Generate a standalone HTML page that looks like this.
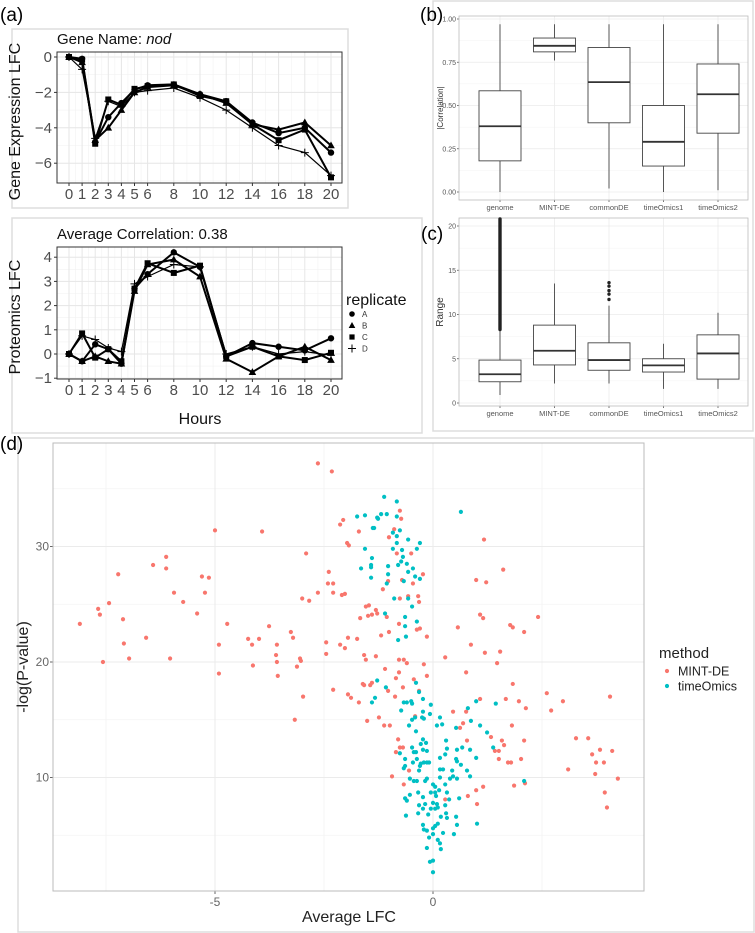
<!DOCTYPE html>
<html><head><meta charset="utf-8">
<style>
html,body{margin:0;padding:0;background:#fff;}
svg{display:block;font-family:"Liberation Sans",sans-serif;}
</style></head>
<body>
<svg id="fig" width="755" height="933" viewBox="0 0 755 933" xmlns="http://www.w3.org/2000/svg">
<g id="frames">
  <rect x="12" y="29" width="336" height="179" fill="none" stroke="#ddd" stroke-width="1.5"/>
  <rect x="12" y="218" width="410" height="215" fill="none" stroke="#ddd" stroke-width="1.5"/>
  <rect x="433" y="1" width="320" height="430" fill="none" stroke="#ddd" stroke-width="1.5"/>
  <rect x="18" y="438" width="736" height="494" fill="none" stroke="#ddd" stroke-width="1.5"/>
</g>
<text x="0" y="21" font-size="19">(a)</text>
<text x="420" y="21" font-size="19">(b)</text>
<text x="421" y="240" font-size="19">(c)</text>
<text x="0" y="450" font-size="19">(d)</text>
<g id="ga"></g><g id="gb"></g><g id="gc"></g><g id="gd"></g>
</svg>
<script>
// ---------- Panel (a) data ----------
const hours = [0,1,2,3,4,5,6,8,10,12,14,16,18,20];
const replicates = ["A","B","C","D"];
const geneA = [0,-0.1,-4.8,-3.4,-2.6,-1.85,-1.6,-1.55,-2.1,-2.5,-3.7,-4.3,-4.0,-5.4];
const geneB = [0,-0.3,-4.7,-4.0,-3.0,-2.0,-1.7,-1.6,-2.1,-2.6,-3.8,-4.1,-3.7,-5.0];
const geneC = [0,-0.15,-4.9,-2.4,-2.7,-1.8,-1.65,-1.55,-2.2,-2.5,-3.8,-4.7,-4.1,-6.8];
const geneD = [0,-0.7,-4.6,-2.5,-2.8,-2.0,-1.9,-1.75,-2.3,-3.0,-4.0,-5.0,-5.4,-6.7];
const protA = [0,-0.3,0.4,0.2,-0.4,2.7,3.3,4.2,3.6,-0.1,0.45,0.3,0.15,0.65];
const protB = [0,-0.3,-0.1,-0.3,-0.4,2.6,3.7,3.9,3.2,-0.2,-0.75,-0.1,0.3,-0.25];
const protC = [0,0.85,-0.15,0.2,-0.3,2.7,3.75,3.35,3.65,-0.1,0.3,-0.1,-0.25,0.05];
const protD = [0,0.75,0.6,0.25,0.1,2.9,3.2,3.7,3.6,0.0,0.3,0.0,0.1,-0.05];
const geneTicks = [0,-2,-4,-6];
const protTicks = [4,3,2,1,0,-1];

// ---------- Panel (b),(c) data ----------
const methods = ["genome","MINT-DE","commonDE","timeOmics1","timeOmics2"];
const corLow  = [0.0,0.76,0.02,0.0,0.01];
const corQ1   = [0.18,0.81,0.40,0.15,0.34];
const corMed  = [0.38,0.845,0.635,0.29,0.565];
const corQ3   = [0.585,0.89,0.835,0.50,0.74];
const corHigh = [0.97,0.97,0.97,0.97,0.97];
const corTicks = ["0.00","0.25","0.50","0.75","1.00"];
const rngLow  = [0.9,2.2,2.2,1.6,1.6];
const rngQ1   = [2.4,4.3,3.7,3.5,2.7];
const rngMed  = [3.25,5.9,4.85,4.25,5.6];
const rngQ3   = [4.85,8.8,6.8,5.0,7.7];
const rngHigh = [8.3,13.5,11.0,6.7,10.2];
const genomeOutlierMin = 8.3, genomeOutlierMax = 20.8;
const commonOutliers = [11.7,12.3,12.7,13.2,13.6];
const rngTicks = [0,5,10,15,20];

// ---------- Panel (d) data ----------
const mintX = [-2.64,-2.32,-5.0,-3.92,-2.91,-6.12,-6.42,-6.12,-7.22,-2.39,-5.30,-5.14,-2.41,-2.29,-2.13,-2.06,-1.70,-1.97,-1.93,-5.94,-5.23,-2.64,-2.29,-2.09,-2.02,-7.43,-5.73,-3.0,-2.84,-7.68,-7.64,-5.41,-7.11,-8.10,-4.72,-3.76,-3.26,-3.21,-6.58,-4.24,-3.99,-1.95,-1.74,-7.09,-4.91,-4.15,-3.58,-2.45,-2.13,-2.02,-7.57,-6.97,-6.03,-3.60,-3.58,-3.05,-3.03,-2.45,-1.58,-1.54,-1.31,-4.91,-4.13,-3.56,-3.12,-1.67,-1.54,-1.47,-1.49,-1.40,-1.31,-0.76,-0.73,-0.89,-1.01,-0.83,-0.50,1.17,1.61,0.99,1.22,-1.03,-0.71,-0.46,-0.23,-1.15,-0.76,-0.57,-0.34,-0.32,-1.06,-1.28,1.08,1.15,2.41,0.57,1.77,1.83,2.09,-0.78,-0.37,-0.30,-1.01,-1.19,-0.14,0.87,1.19,1.54,0.28,1.47,0.76,-0.78,-0.67,-0.60,-0.21,-1.10,-0.78,-0.14,-0.85,-0.44,-1.40,-1.61,1.83,2.61,2.98,4.06,2.71,1.97,2.13,1.67,1.08,0.46,0.76,0.69,0.62,1.81,2.09,1.58,1.63,1.42,1.51,1.33,1.51,1.72,1.79,2.02,0.78,3.28,3.56,3.65,3.83,4.11,3.74,3.92,3.10,3.72,4.24,3.94,3.99,1.86,2.11,1.15,0.99,0.80,1.01,0.28,-0.67,-0.94,-0.80,-0.76,-0.85,-0.69,-0.55,-0.41,-0.32,-0.69,-0.87,-1.03,-0.99,-1.12,-1.24,-1.51,-1.70,-1.88,-1.95,-2.29,-2.98,-3.17,-1.58,-1.44];
const mintY = [37.2,36.5,31.4,31.3,29.4,29.1,28.4,28.1,27.6,27.8,27.4,27.3,26.8,26.8,31.9,32.3,31.3,30.3,30.1,26.0,26.0,26.0,26.0,25.8,25.9,25.1,25.2,25.5,25.3,24.6,24.1,24.2,23.7,23.3,23.3,23.1,22.6,22.1,22.1,22.0,22.0,22.1,22.0,21.6,21.5,21.5,21.5,21.7,21.5,21.2,20.0,20.3,20.3,20.6,20.0,20.3,20.1,20.7,20.6,20.2,20.5,19.0,19.7,18.8,19.6,23.8,24.8,24.9,24.0,24.1,24.5,33.1,32.4,31.5,30.8,29.4,29.4,30.6,28.0,27.1,26.9,27.0,27.1,26.8,27.6,26.3,25.5,25.7,25.7,25.2,23.9,24.2,24.1,23.8,23.9,23.0,23.2,23.0,22.6,23.3,22.8,22.9,22.6,22.3,22.2,21.5,20.8,20.9,20.4,19.9,19.1,20.2,20.2,19.9,19.8,19.4,19.1,18.8,18.6,18.5,18.2,18.1,18.1,17.3,16.6,17.0,15.8,16.6,16.0,16.8,16.8,15.7,15.7,14.7,14.3,14.5,13.2,13.2,12.8,12.3,12.3,13.5,11.6,11.3,11.3,11.6,13.2,13.4,13.4,12.0,12.4,12.3,11.3,11.3,10.7,10.3,9.9,8.7,7.4,9.3,9.5,9.2,8.9,8.4,7.7,8.1,9.4,10.1,13.3,12.6,12.2,12.6,10.6,15.3,17.5,17.8,17.0,17.5,14.5,14.5,15.2,14.9,16.5,16.9,17.2,17.6,17.0,15.0,18.0,18.0];
const toX = [-1.74,-1.56,-1.28,-1.38,-1.56,-1.40,-1.42,-1.65,-1.42,-1.12,-0.83,-1.19,-1.06,-0.83,-1.26,-1.35,-0.76,-0.92,-0.83,-0.57,-0.30,-0.83,-0.92,-0.71,-0.37,-0.69,-1.42,-0.73,-0.80,-1.03,-0.60,-0.46,-0.57,-1.03,-0.41,-0.30,-0.67,-1.06,-0.89,-0.57,-0.48,-1.10,-0.64,-0.37,-0.64,-0.80,-0.62,0.64,-1.28,-0.39,-1.40,-1.33,-1.08,-0.23,-0.32,-0.73,-0.67,-0.60,-0.50,-0.48,-0.05,-0.23,-0.07,-0.48,-0.41,-0.55,-0.39,-0.25,-0.21,0.16,0.09,0.21,0.53,0.87,0.80,0.99,1.44,1.08,1.24,1.38,0.99,0.85,0.67,0.55,0.30,0.32,0.28,0.16,0.53,0.55,0.64,0.44,0.78,0.85,0.46,0.55,0.39,0.23,0.16,0.16,0.28,0.14,0.0,0.05,0.05,0.07,-0.05,-0.23,-0.34,-0.53,-0.64,-0.60,-0.32,-0.18,0.0,0.09,0.32,0.60,0.37,0.28,0.11,0.05,-0.05,-0.23,-0.34,-0.11,-0.62,0.18,0.30,0.32,0.53,0.55,0.48,0.23,0.05,0.0,0.11,-0.23,-0.21,-0.14,0.0,-0.09,0.11,0.16,0.18,-0.14,0.0,-0.07,0.0,1.01,2.09,-0.48,-0.44,-0.39,-0.37,-0.30,-0.32,-0.28,-0.21,-0.14,-0.09,-0.23,-0.14,-0.28,-0.16,-0.23,-0.64,-0.67,-0.64,-0.76,-0.46,-0.53,-0.44,-0.18,-0.14,-0.37];
const toY = [32.6,32.7,32.5,31.6,29.8,29.0,28.4,28.1,27.3,34.3,33.9,32.8,32.8,32.6,32.4,31.6,31.4,31.2,30.9,30.6,30.3,30.3,29.8,29.7,29.8,29.1,28.2,28.7,28.4,28.3,28.5,28.1,27.8,27.6,27.4,27.2,27.0,26.8,25.5,25.5,24.8,24.2,23.9,23.5,23.1,21.9,22.2,33.0,18.4,18.2,16.5,16.9,17.8,16.8,17.4,15.8,16.5,16.5,16.6,16.4,16.3,15.7,15.5,15.0,15.2,14.5,14.0,15.2,15.1,15.2,14.5,14.6,14.3,14.9,16.0,16.6,16.4,14.5,13.9,12.6,11.7,12.4,12.6,12.4,13.2,12.5,12.0,11.7,11.6,11.4,11.1,10.6,10.6,10.1,10.1,9.9,9.9,10.7,10.7,10.0,9.4,8.9,9.4,9.2,8.7,8.4,8.7,8.3,8.7,8.5,8.2,8.0,7.6,7.7,7.8,7.7,8.7,8.2,8.1,7.6,7.4,7.3,7.3,7.3,6.9,6.8,6.7,6.6,6.9,6.5,6.6,5.9,5.1,5.2,5.8,5.6,6.0,5.9,5.5,5.4,5.1,4.8,4.6,4.3,3.8,3.9,2.8,2.7,1.8,6.0,9.7,12.6,12.2,12.2,11.6,11.0,10.6,11.2,11.3,11.3,11.3,12.4,12.3,12.9,13.0,13.3,11.6,10.8,11.0,12.1,11.3,9.9,9.7,9.7,9.9,9.7];
const dXTicks = [-5,0];
const dYTicks = [10,20,30];

const NS = "http://www.w3.org/2000/svg";
function mk(parent, tag, attrs, text){
  const e = document.createElementNS(NS, tag);
  for (const k in attrs) e.setAttribute(k, attrs[k]);
  if (text !== undefined) e.textContent = text;
  parent.appendChild(e);
  return e;
}

// ===== Panel (a) =====
const ga = document.getElementById('ga');


const ax = h => 69 + h * 13.1;
function lineFacet(cfg){
  const g = mk(ga, 'g', {});
  
  
  const {x0,x1,y0,y1} = cfg;
  mk(g,'rect',{x:x0,y:y0,width:x1-x0,height:y1-y0,fill:'#fff'});
  for (let v = cfg.vmin; v <= cfg.vmax; v += cfg.minorStep) {
    const y = cfg.ay(v);
    if (y>y0 && y<y1) mk(g,'line',{x1:x0,x2:x1,y1:y,y2:y,stroke:'#f2f2f2','stroke-width':0.6});
  }
  for (let i=0;i<hours.length-1;i++){
    const xm = ax((hours[i]+hours[i+1])/2);
    mk(g,'line',{x1:xm,x2:xm,y1:y0,y2:y1,stroke:'#f2f2f2','stroke-width':0.6});
  }
  cfg.ticks.forEach(t=>{
    const y = cfg.ay(t);
    mk(g,'line',{x1:x0,x2:x1,y1:y,y2:y,stroke:'#e6e6e6','stroke-width':1});
    const lab = mk(g,'text',{x:x0-5,y:y+5,'text-anchor':'end','font-size':15,fill:'#4d4d4d'}, t<0?'\u2212'+(-t):String(t));
    
    
    mk(g,'line',{x1:x0-3,x2:x0,y1:y,y2:y,stroke:'#333','stroke-width':1});
  });
  hours.forEach(h=>{
    const x = ax(h);
    mk(g,'line',{x1:x,x2:x,y1:y0,y2:y1,stroke:'#e6e6e6','stroke-width':1});
    mk(g,'line',{x1:x,x2:x,y1:y1,y2:y1+3,stroke:'#333','stroke-width':1});
    const lab = mk(g,'text',{x:x,y:y1+16,'text-anchor':'middle','font-size':15,fill:'#4d4d4d'}, String(h));
    
    
  });
  const series = cfg.series;
  const shapes = ['circle','triangle','square','plus'];
  series.forEach((vals, si)=>{
    const pts = vals.map((v,i)=>ax(hours[i]).toFixed(1)+','+cfg.ay(v).toFixed(1)).join(' ');
    const pl = mk(g,'polyline',{points:pts,fill:'none',stroke:'#000','stroke-width':si===3?1.2:2});
    
    
    vals.forEach((v,i)=>{
      const x = ax(hours[i]), y = cfg.ay(v);
      let m;
      if (shapes[si]==='circle') m = mk(g,'circle',{cx:x,cy:y,r:3.2,fill:'#000'});
      else if (shapes[si]==='triangle') m = mk(g,'polygon',{points:`${x},${y-4} ${x-3.8},${y+2.8} ${x+3.8},${y+2.8}`,fill:'#000'});
      else if (shapes[si]==='square') m = mk(g,'rect',{x:x-3,y:y-3,width:6,height:6,fill:'#000'});
      else m = mk(g,'path',{d:`M${x-4},${y}H${x+4}M${x},${y-4}V${y+4}`,stroke:'#000','stroke-width':1});
      
      
    });
  });
  mk(g,'rect',{x:x0,y:y0,width:x1-x0,height:y1-y0,fill:'none',stroke:'#333','stroke-width':1});
  const t = mk(g,'text',{x:x0,y:y0-8,'font-size':15,fill:'#111'});
  t.innerHTML = cfg.title;
  
  
  const yt = mk(g,'text',{x:0,y:0,'font-size':16,fill:'#111','text-anchor':'middle',transform:`translate(${x0-37},${(y0+y1)/2+4}) rotate(-90)`}, cfg.ylab);
  
  
}
lineFacet({name:'gene-expression-plot',x0:57,x1:342,y0:52,y1:183,ay:v=>57-v*17.7,vmin:-7,vmax:1,minorStep:1,ticks:geneTicks,
  series:[geneA,geneB,geneC,geneD],title:'Gene Name: <tspan font-style="italic">nod</tspan>',ylab:'Gene Expression LFC'});
lineFacet({name:'proteomics-plot',x0:57,x1:342,y0:247,y1:379,ay:v=>354-v*24.2,vmin:-1,vmax:4.5,minorStep:0.5,ticks:protTicks,
  series:[protA,protB,protC,protD],title:'Average Correlation: 0.38',ylab:'Proteomics LFC'});
const hx = mk(ga,'text',{x:200,y:424,'font-size':16,'text-anchor':'middle',fill:'#111'},'Hours');


const lg = mk(ga,'g',{});


mk(lg,'text',{x:346,y:305,'font-size':16,fill:'#111'},'replicate');
replicates.forEach((r,i)=>{
  const y = 314 + i*11.5, x = 352;
  let m;
  if (i===0) m = mk(lg,'circle',{cx:x,cy:y,r:2.8,fill:'#000'});
  else if (i===1) m = mk(lg,'polygon',{points:`${x},${y-3.5} ${x-3.3},${y+2.5} ${x+3.3},${y+2.5}`,fill:'#000'});
  else if (i===2) m = mk(lg,'rect',{x:x-2.6,y:y-2.6,width:5.2,height:5.2,fill:'#000'});
  else m = mk(lg,'path',{d:`M${x-4},${y}H${x+4}M${x},${y-4}V${y+4}`,stroke:'#000','stroke-width':1});
  const lt = mk(lg,'text',{x:362,y:y+3,'font-size':8,fill:'#333'},r);
  
  
});

// ===== Panels (b),(c) =====
const bx = i => 500 + i * 54.5;
function boxPanel(gid, cfg){
  const g = document.getElementById(gid);
  
  
  const {x0,x1,y0,y1} = cfg;
  cfg.minor.forEach(v=>{const y=cfg.ay(v); mk(g,'line',{x1:x0,x2:x1,y1:y,y2:y,stroke:'#f3f3f3','stroke-width':0.6});});
  cfg.ticks.forEach(t=>{
    const y = cfg.ay(parseFloat(t));
    mk(g,'line',{x1:x0,x2:x1,y1:y,y2:y,stroke:'#ebebeb','stroke-width':0.8});
    mk(g,'line',{x1:x0-2,x2:x0,y1:y,y2:y,stroke:'#555','stroke-width':0.8});
    const lab = mk(g,'text',{x:x0-3,y:y+2.5,'text-anchor':'end','font-size':7,fill:'#555'},String(t));
    
    
  });
  methods.forEach((m,i)=>{
    const x = bx(i);
    mk(g,'line',{x1:x,x2:x,y1:y0,y2:y1,stroke:'#ebebeb','stroke-width':0.8});
    mk(g,'line',{x1:x,x2:x,y1:y1,y2:y1+2,stroke:'#555','stroke-width':0.8});
    const lab = mk(g,'text',{x:x,y:y1+10,'text-anchor':'middle','font-size':7.5,fill:'#555'},m);
    
    
  });
  methods.forEach((m,i)=>{
    const x = bx(i), w = 21;
    const bg = mk(g,'g',{});
    
    
    mk(bg,'line',{x1:x,x2:x,y1:cfg.ay(cfg.low[i]),y2:cfg.ay(cfg.q1[i]),stroke:'#444','stroke-width':0.9});
    mk(bg,'line',{x1:x,x2:x,y1:cfg.ay(cfg.q3[i]),y2:cfg.ay(cfg.high[i]),stroke:'#444','stroke-width':0.9});
    mk(bg,'rect',{x:x-w,y:cfg.ay(cfg.q3[i]),width:2*w,height:cfg.ay(cfg.q1[i])-cfg.ay(cfg.q3[i]),fill:'#fff',stroke:'#444','stroke-width':0.9});
    mk(bg,'line',{x1:x-w,x2:x+w,y1:cfg.ay(cfg.med[i]),y2:cfg.ay(cfg.med[i]),stroke:'#333','stroke-width':1.8});
  });
  mk(g,'rect',{x:x0,y:y0,width:x1-x0,height:y1-y0,fill:'none',stroke:'#bbb','stroke-width':0.8});
  const yt = mk(g,'text',{x:0,y:0,'font-size':cfg.ylabSize,fill:'#333','text-anchor':'middle',transform:`translate(${x0-16},${(y0+y1)/2}) rotate(-90)`},cfg.ylab);
  
  
  return g;
}
boxPanel('gb',{name:'panel-b-correlation-boxplot',x0:459,x1:748,y0:16,y1:200,ay:v=>192-v*173,ticks:corTicks,minor:[0.125,0.375,0.625,0.875],
  low:corLow,q1:corQ1,med:corMed,q3:corQ3,high:corHigh,ylab:'|Correlation|',ylabSize:8});
const gc = boxPanel('gc',{name:'panel-c-range-boxplot',x0:459,x1:748,y0:218,y1:406,ay:v=>403-v*8.85,ticks:rngTicks,minor:[2.5,7.5,12.5,17.5],
  low:rngLow,q1:rngQ1,med:rngMed,q3:rngQ3,high:rngHigh,ylab:'Range',ylabSize:10});
{
  const ay = v=>403-v*8.85;
  const o = mk(gc,'line',{x1:bx(0),x2:bx(0),y1:ay(genomeOutlierMin),y2:ay(genomeOutlierMax),stroke:'#222','stroke-width':3.4,'stroke-linecap':'round'});
  
  
  commonOutliers.forEach(v=>{
    const c = mk(gc,'circle',{cx:bx(2),cy:ay(v),r:1.7,fill:'#222'});
    
    
  });
}

// ===== Panel (d) =====
const gd = document.getElementById('gd');


const dx = v => 433 + v * 43.6;
const dy = v => 893 - v * 11.55;
const DX0=53, DX1=644, DY0=443, DY1=891;
[-7.5,-2.5,2.5].forEach(v=>mk(gd,'line',{x1:dx(v),x2:dx(v),y1:DY0,y2:DY1,stroke:'#f3f3f3','stroke-width':0.8}));
[5,15,25,35].forEach(v=>mk(gd,'line',{x1:DX0,x2:DX1,y1:dy(v),y2:dy(v),stroke:'#f3f3f3','stroke-width':0.8}));
dXTicks.forEach(v=>{
  const x = dx(v);
  mk(gd,'line',{x1:x,x2:x,y1:DY0,y2:DY1,stroke:'#ebebeb','stroke-width':1});
  mk(gd,'line',{x1:x,x2:x,y1:DY1,y2:DY1+3,stroke:'#666','stroke-width':1});
  const t = mk(gd,'text',{x:x,y:DY1+15,'text-anchor':'middle','font-size':12,fill:'#666'},String(v));
  
  
});
dYTicks.forEach(v=>{
  const y = dy(v);
  mk(gd,'line',{x1:DX0,x2:DX1,y1:y,y2:y,stroke:'#ebebeb','stroke-width':1});
  mk(gd,'line',{x1:DX0-3,x2:DX0,y1:y,y2:y,stroke:'#666','stroke-width':1});
  const t = mk(gd,'text',{x:DX0-4,y:y+4,'text-anchor':'end','font-size':12,fill:'#666'},String(v));
  
  
});
mk(gd,'rect',{x:DX0,y:DY0,width:DX1-DX0,height:DY1-DY0,fill:'none',stroke:'#bbb','stroke-width':1});
mintX.forEach((v,i)=>{
  const c = mk(gd,'circle',{cx:dx(v),cy:dy(mintY[i]),r:2.1,fill:'#F8766D'});
  
  
});
toX.forEach((v,i)=>{
  const c = mk(gd,'circle',{cx:dx(v),cy:dy(toY[i]),r:2.1,fill:'#00BFC4'});
  
  
});
const xt = mk(gd,'text',{x:349,y:922,'text-anchor':'middle','font-size':16,fill:'#222'},'Average LFC');


const yt = mk(gd,'text',{x:0,y:0,'text-anchor':'middle','font-size':16,fill:'#222',transform:'translate(28,667) rotate(-90)'},'-log(P-value)');


const dl = mk(gd,'g',{});


mk(dl,'text',{x:659,y:658,'font-size':15,fill:'#222'},'method');
[['MINT-DE','#F8766D'],['timeOmics','#00BFC4']].forEach((e,i)=>{
  const y = 671 + i*15;
  mk(dl,'circle',{cx:667,cy:y,r:2.1,fill:e[1]});
  const t = mk(dl,'text',{x:678,y:y+4.5,'font-size':12.5,fill:'#222'},e[0]);
  
  
});
</script>
</body></html>
